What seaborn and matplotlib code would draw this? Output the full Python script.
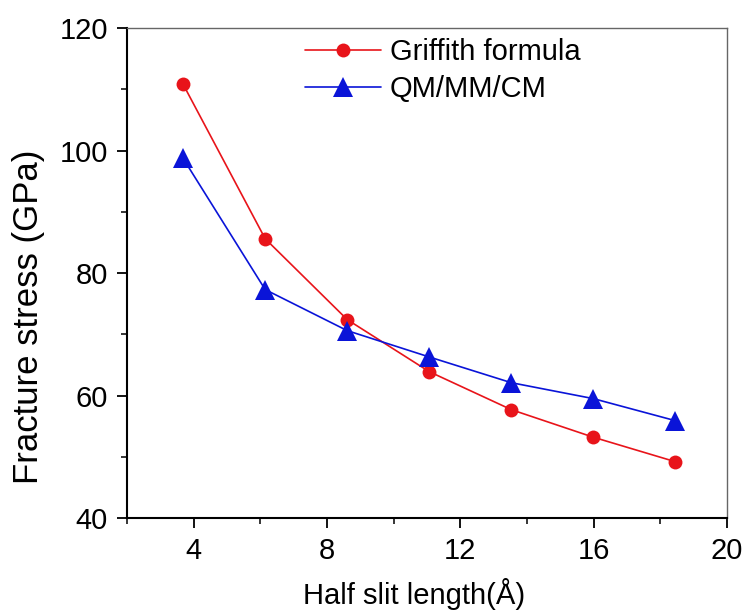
import matplotlib
matplotlib.use("Agg")
import matplotlib.pyplot as plt
from matplotlib.ticker import MultipleLocator
import seaborn as sns
import pandas as pd

half_slit = [3.69, 6.15, 8.61, 11.07, 13.53, 15.99, 18.45]
griffith = [110.8, 85.6, 72.4, 63.9, 57.7, 53.2, 49.2]
qmmmcm = [98.7, 77.3, 70.6, 66.3, 62.1, 59.5, 55.9]
series_names = ["Griffith formula", "QM/MM/CM"]

df_g = pd.DataFrame({"x": half_slit, "y": griffith})
df_q = pd.DataFrame({"x": half_slit, "y": qmmmcm})

sns.set_theme(style="ticks")
plt.rcParams["font.family"] = ["Liberation Sans", "DejaVu Sans"]
plt.rcParams["text.color"] = "black"
plt.rcParams["axes.labelcolor"] = "black"
plt.rcParams["xtick.color"] = "black"
plt.rcParams["ytick.color"] = "black"

fig = plt.figure(figsize=(7.46, 6.16), dpi=100)
ax = fig.add_axes([0.170, 0.159, 0.8045, 0.7955])

sns.lineplot(data=df_g, x="x", y="y", color="#e8141a", marker="o",
             markersize=10, markeredgewidth=0, linewidth=1.2,
             label=series_names[0], ax=ax)
sns.lineplot(data=df_q, x="x", y="y", color="#0a14d8", marker="^",
             markersize=14, markeredgewidth=0, linewidth=1.2,
             label=series_names[1], ax=ax)

ax.set_xlim(2, 20)
ax.set_ylim(40, 120)
ax.xaxis.set_major_locator(MultipleLocator(4))
ax.xaxis.set_minor_locator(MultipleLocator(2))
ax.yaxis.set_major_locator(MultipleLocator(20))
ax.yaxis.set_minor_locator(MultipleLocator(10))
ax.set_xticks([4, 8, 12, 16, 20])
ax.tick_params(which="major", direction="out", length=7.5, width=1.3, labelsize=21,
               color="black", labelcolor="black", pad=6)
ax.tick_params(which="minor", direction="out", length=4, width=1.1, color="black")
ax.tick_params(top=False, right=False, which="both")

for s in ["left", "bottom"]:
    ax.spines[s].set_linewidth(1.5)
    ax.spines[s].set_color("black")
for s in ["top", "right"]:
    ax.spines[s].set_linewidth(1.0)
    ax.spines[s].set_color("#666666")

ax.set_xlabel("Half slit length(Å)", fontsize=21)
ax.set_ylabel("Fracture stress (GPa)", fontsize=25)
ax.xaxis.set_label_coords(0.478, -0.122)
ax.yaxis.set_label_coords(-0.137, 0.41)

leg = ax.legend(loc="upper left", bbox_to_anchor=(0.278, 1.004), frameon=False,
                fontsize=21, handlelength=2.6, handletextpad=0.3, labelspacing=0.32,
                borderaxespad=0)

fig.savefig("out.png", dpi=100)
